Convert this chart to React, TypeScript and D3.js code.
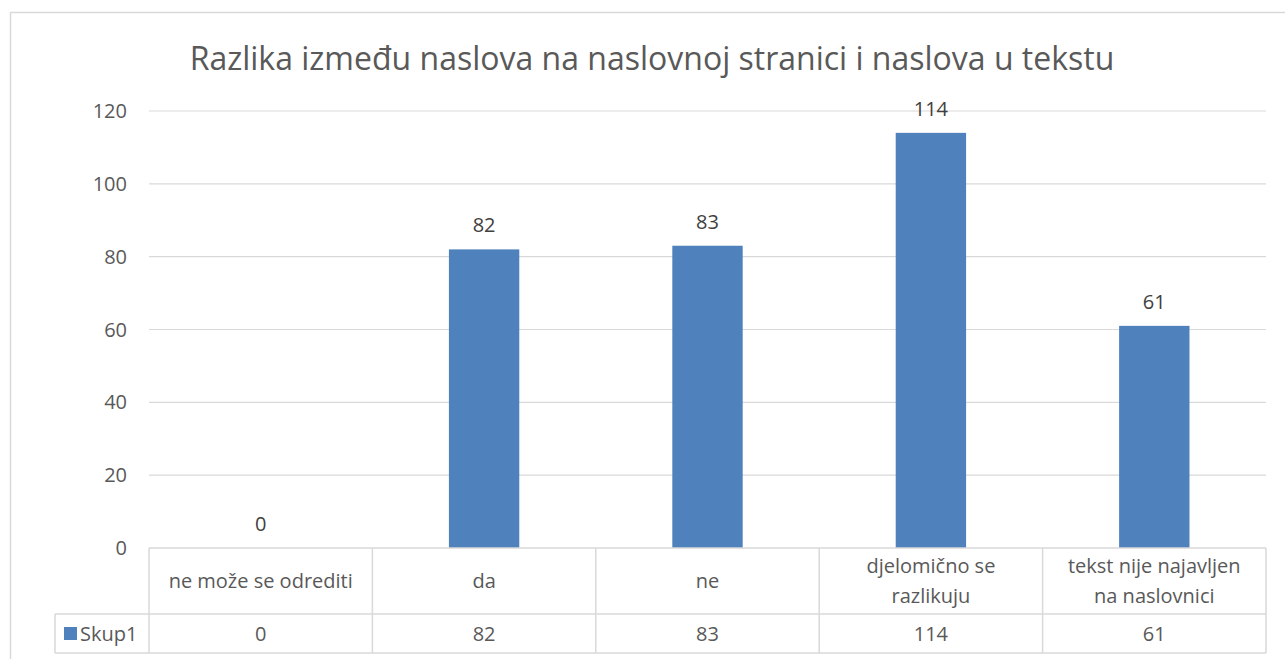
import * as d3 from "d3";
import React from "react";

// categories, values, ticks
const categories = ["ne može se odrediti", "da", "ne", "djelomično se razlikuju", "tekst nije najavljen na naslovnici"];
const categoryLines = [["ne može se odrediti"], ["da"], ["ne"], ["djelomično se", "razlikuju"], ["tekst nije najavljen", "na naslovnici"]];
const values = [0, 82, 83, 114, 61];
const yTicks = [0, 20, 40, 60, 80, 100, 120];
const seriesName = "Skup1";
const title = "Razlika između naslova na naslovnoj stranici i naslova u tekstu";

export default function App() {
  const WIDTH = 1285;
  const HEIGHT = 659;
  const plot = { left: 149, right: 1266, top: 111, bottom: 548 };
  const rowDivider = 614;
  const tableBottom = 653;
  const legendLeft = 55;

  const font = "'Open Sans', 'Noto Sans', sans-serif";
  const fs = 20;
  const textColor = "#595959";
  const gridColor = "#d9d9d9";
  const barColor = "#4f81bd";

  const xScale = d3.scaleBand<string>()
    .domain(categories)
    .range([plot.left, plot.right])
    .paddingInner(0)
    .paddingOuter(0);

  const yScale = d3.scaleLinear()
    .domain([0, 120])
    .range([plot.bottom, plot.top]);

  const barWidth = xScale.bandwidth() * 0.315;
  const bounds = categories.map(c => xScale(c) as number).concat([plot.right]);

  return (
    <svg width={WIDTH} height={HEIGHT} style={{ position: "absolute", left: 0, top: 0, background: "#fff" }}>
      {/* chart frame, clipped on right/bottom */}
      <rect x={10.5} y={12.5} width={1400} height={800} fill="#fff" stroke={gridColor} strokeWidth={1.5} />

      <text x={652} y={70} textAnchor="middle" fontFamily={font} fontSize={32} fill={textColor}>
        {title}
      </text>

      {/* gridlines + y labels */}
      {yTicks.map((t, i) => {
        let y = yScale(t);
        return (
          <g key={i}>
            {t !== 0 && <line x1={plot.left} x2={plot.right} y1={y} y2={y} stroke={gridColor} strokeWidth={1.2} />}
            <text x={127} y={y} dy="0.35em" textAnchor="end" fontFamily={font} fontSize={fs} fill={textColor}>
              {t}
            </text>
          </g>
        );
      })}

      {/* bars */}
      {categories.map((c, i) => {
        let cx = (xScale(c) as number) + xScale.bandwidth() / 2;
        let y = yScale(values[i]);
        return (
          <g key={i}>
            <rect x={cx - barWidth / 2} y={y} width={barWidth} height={plot.bottom - y} fill={barColor} />
            <text x={cx} y={y - 24} dy="0.35em" textAnchor="middle" fontFamily={font} fontSize={fs} fill="#404040">
              {values[i]}
            </text>
          </g>
        );
      })}

      {/* data table */}
      <g stroke={gridColor} strokeWidth={1.5}>
        <line x1={plot.left} x2={plot.right} y1={plot.bottom} y2={plot.bottom} />
        <line x1={legendLeft} x2={plot.right} y1={rowDivider} y2={rowDivider} />
        <line x1={legendLeft} x2={plot.right} y1={tableBottom} y2={tableBottom} />
        <line x1={legendLeft} x2={legendLeft} y1={rowDivider} y2={tableBottom} />
        {bounds.map((x, i) => (
          <line key={i} x1={x} x2={x} y1={plot.bottom} y2={tableBottom} />
        ))}
      </g>

      {categories.map((c, i) => {
        let cx = (xScale(c) as number) + xScale.bandwidth() / 2;
        let lines = categoryLines[i];
        let mid = (plot.bottom + rowDivider) / 2;
        return (
          <g key={i}>
            {lines.map((l, j) => (
              <text key={j} x={cx} y={mid + (j - (lines.length - 1) / 2) * 30} dy="0.35em"
                textAnchor="middle" fontFamily={font} fontSize={fs} fill={textColor}>
                {l}
              </text>
            ))}
            <text x={cx} y={(rowDivider + tableBottom) / 2} dy="0.35em" textAnchor="middle"
              fontFamily={font} fontSize={fs} fill={textColor}>
              {values[i]}
            </text>
          </g>
        );
      })}

      {/* legend key */}
      <rect x={64} y={627} width={13} height={13} fill={barColor} />
      <text x={80} y={(rowDivider + tableBottom) / 2} dy="0.35em" fontFamily={font} fontSize={fs} fill={textColor}>
        {seriesName}
      </text>
    </svg>
  );
}
